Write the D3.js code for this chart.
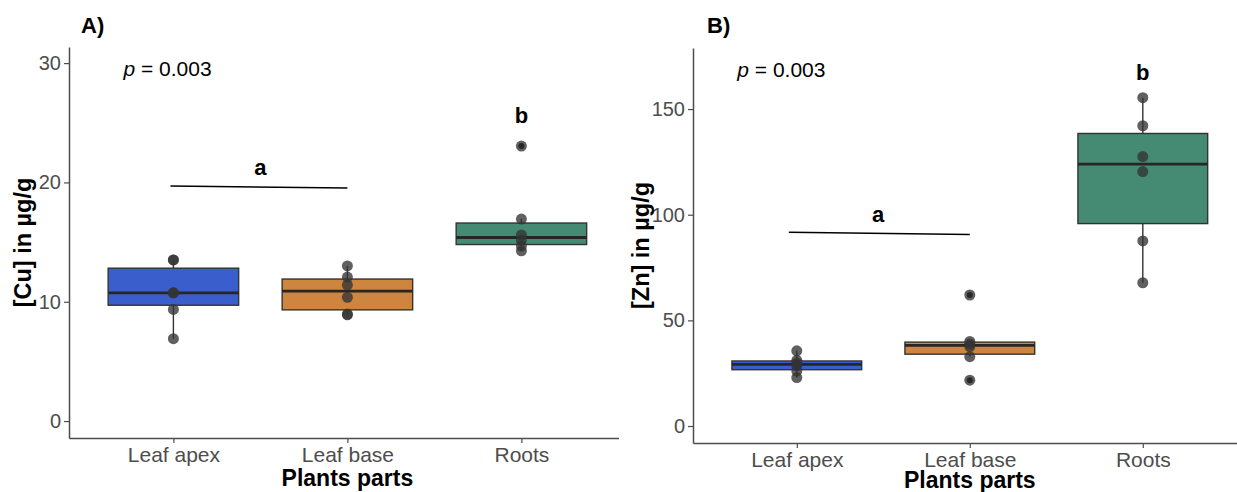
<!DOCTYPE html>
<html>
<head>
<meta charset="utf-8">
<script src="https://cdn.jsdelivr.net/npm/d3@7"></script>
<style>
  body { margin: 0; background: #fff; }
  svg { display: block; font-family: Arial, "Liberation Sans", sans-serif; }
</style>
</head>
<body>
<div id="chart"></div>
<script>

var categories = ["Leaf apex", "Leaf base", "Roots"];
var boxColors = ["#3A5FCD", "#CD853F", "#458B74"];

// copper, ug/g
var cuApex = [6.9, 9.36, 10.75, 10.75, 13.5, 13.5];
var cuBase = [8.9, 8.97, 10.37, 11.4, 12.07, 13.0];
var cuRoots = [14.27, 14.67, 15.17, 15.6, 16.93, 23.05];
var cuTicks = [0, 10, 20, 30];

// zinc, ug/g
var znApex = [22.9, 26.0, 28.6, 29.8, 31.1, 35.6];
var znBase = [21.7, 32.8, 37.6, 38.8, 40.0, 62.0];
var znRoots = [67.8, 87.6, 120.4, 127.5, 142.1, 155.4];
var znTicks = [0, 50, 100, 150];

// annotations: [position on x (category index), value]
var cuBracket = [[0.983, 19.7], [2.0, 19.53]];
var znBracket = [[0.954, 91.7], [2.0, 90.6]];
var cuLetters = [["a", 1.5, 20.6], ["b", 3, 25.0]];
var znLetters = [["a", 1.47, 96.5], ["b", 3, 163.7]];
var pText = "0.003";

var svg = d3.select("#chart").append("svg")
    .attr("width", 1237)
    .attr("height", 492);

function boxStats(vals) {
    var s = vals.slice().sort(d3.ascending);
    var q1 = d3.quantile(s, 0.25), med = d3.quantile(s, 0.5), q3 = d3.quantile(s, 0.75);
    var iqr = q3 - q1;
    var inside = s.filter(function(v) { return v >= q1 - 1.5 * iqr && v <= q3 + 1.5 * iqr; });
    return {
        q1: q1, med: med, q3: q3,
        lo: d3.min(inside), hi: d3.max(inside),
        out: s.filter(function(v) { return v < q1 - 1.5 * iqr || v > q3 + 1.5 * iqr; })
    };
}

function drawPanel(cfg) {

    var clipId = "clip" + cfg.tag.charAt(0);
    svg.append("clipPath").attr("id", clipId)
        .append("rect")
        .attr("x", cfg.clipLeft).attr("y", 0)
        .attr("width", cfg.clipRight - cfg.clipLeft).attr("height", 492);

    var g = svg.append("g").attr("clip-path", "url(#" + clipId + ")");

    var x = d3.scaleLinear().domain([0.4, 3.6]).range([cfg.xLeft, cfg.xLeft + 3.2 * cfg.step]);
    var y = d3.scaleLinear().domain(cfg.yDomain).range(cfg.yRange);
    var halfBox = x(1.375) - x(1);

    cfg.series.forEach(function(vals, i) {
        var st = boxStats(vals);
        var cx = x(i + 1);

        g.append("line")
            .attr("x1", cx).attr("x2", cx)
            .attr("y1", y(st.hi)).attr("y2", y(st.lo))
            .attr("stroke", "#333").attr("stroke-width", 1.4);

        g.append("rect")
            .attr("x", cx - halfBox)
            .attr("y", y(st.q3))
            .attr("width", 2 * halfBox)
            .attr("height", y(st.q1) - y(st.q3))
            .attr("fill", boxColors[i])
            .attr("stroke", "#333")
            .attr("stroke-width", 1.4);

        g.append("line")
            .attr("x1", cx - halfBox).attr("x2", cx + halfBox)
            .attr("y1", y(st.med)).attr("y2", y(st.med))
            .attr("stroke", "#262626").attr("stroke-width", 2.8);

        st.out.forEach(function(v) {
            g.append("circle").attr("cx", cx).attr("cy", y(v)).attr("r", 3).attr("fill", "#000");
        });

        vals.forEach(function(v) {
            g.append("circle")
                .attr("cx", cx).attr("cy", y(v)).attr("r", 5.5)
                .style("fill", "#333")
                .style("opacity", "0.78");
        });
    });

    // axes
    var xAxis = g.append("g")
        .attr("transform", "translate(0," + cfg.yRange[0] + ")")
        .call(d3.axisBottom(x).tickValues([1, 2, 3])
            .tickFormat(function(d) { return categories[d - 1]; })
            .tickSize(5).tickSizeOuter(0).tickPadding(4));

    var yAxis = g.append("g")
        .attr("transform", "translate(" + cfg.xLeft + ",0)")
        .call(d3.axisLeft(y).tickValues(cfg.ticks).tickSize(5).tickSizeOuter(0).tickPadding(3));

    [xAxis, yAxis].forEach(function(a) {
        a.select(".domain").attr("stroke", "#4d4d4d").attr("stroke-width", 1.5);
        a.selectAll(".tick line").attr("stroke", "#4d4d4d").attr("stroke-width", 1.2);
        a.selectAll(".tick text")
            .attr("fill", "#4d4d4d")
            .style("font-family", "Arial, 'Liberation Sans', sans-serif");
    });
    xAxis.selectAll(".tick text").style("font-size", "21px");
    yAxis.selectAll(".tick text").style("font-size", "20px");

    // bracket + letters
    g.append("line")
        .attr("x1", x(cfg.bracket[0][0])).attr("y1", y(cfg.bracket[0][1]))
        .attr("x2", x(cfg.bracket[1][0])).attr("y2", y(cfg.bracket[1][1]))
        .attr("stroke", "#000").attr("stroke-width", 1.5);

    cfg.letters.forEach(function(l) {
        g.append("text")
            .attr("x", x(l[1])).attr("y", y(l[2]))
            .attr("text-anchor", "middle")
            .style("font-size", "22px")
            .style("font-weight", "bold")
            .text(l[0]);
    });

    var pt = g.append("text")
        .attr("x", x(cfg.pPos[0])).attr("y", y(cfg.pPos[1]))
        .style("font-size", "21px");
    pt.append("tspan").style("font-style", "italic").text("p");
    pt.append("tspan").text(" = " + pText);

    // titles
    svg.append("text")
        .attr("x", cfg.tagX).attr("y", 33)
        .style("font-size", "22px").style("font-weight", "bold")
        .text(cfg.tag);

    svg.append("text")
        .attr("transform", "translate(" + cfg.yTitleX + "," + (cfg.yRange[0] + cfg.yRange[1]) / 2 + ") rotate(-90)")
        .attr("text-anchor", "middle")
        .style("font-size", "23.5px").style("font-weight", "bold")
        .text(cfg.yTitle);

    svg.append("text")
        .attr("x", x(2)).attr("y", cfg.xTitleY)
        .attr("text-anchor", "middle")
        .style("font-size", "23px").style("font-weight", "bold")
        .text("Plants parts");
}

drawPanel({
    tag: "A)", tagX: 81,
    series: [cuApex, cuBase, cuRoots],
    ticks: cuTicks,
    xLeft: 69, step: 174,
    clipLeft: 0, clipRight: 619,
    yDomain: [-1.42, 31.35], yRange: [438, 47],
    bracket: cuBracket, letters: cuLetters,
    pPos: [0.713, 28.9],
    yTitle: "[Cu] in µg/g", yTitleX: 31, xTitleY: 486
});

drawPanel({
    tag: "B)", tagX: 707,
    series: [znApex, znBase, znRoots],
    ticks: znTicks,
    xLeft: 693, step: 173,
    clipLeft: 619, clipRight: 1237,
    yDomain: [-8.04, 178.9], yRange: [443, 48],
    bracket: znBracket, letters: znLetters,
    pPos: [0.656, 165.2],
    yTitle: "[Zn] in µg/g", yTitleX: 649, xTitleY: 488
});

</script>
</body>
</html>
